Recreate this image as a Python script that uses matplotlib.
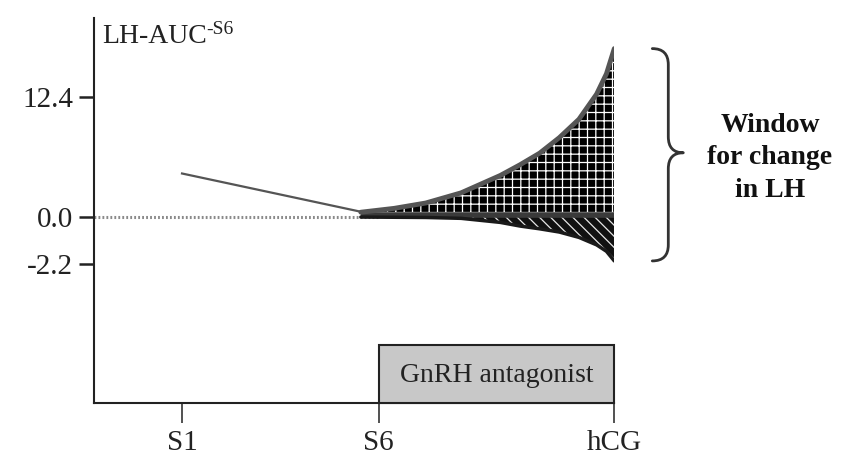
import numpy as np
import matplotlib
matplotlib.use("Agg")
import matplotlib.pyplot as plt
import matplotlib.transforms as mtransforms
from matplotlib.path import Path
from matplotlib.patches import PathPatch, Rectangle

plt.rcParams["font.family"] = ["Liberation Serif", "DejaVu Serif"]
plt.rcParams["hatch.linewidth"] = 0.9

# Stimulation timeline (days) and labels
day_labels = ["S1", "S6", "hCG"]
day_pos = [1, 6, 12]

# LH-AUC axis ticks
auc_ticks = [12.4, 0.0, -2.2]

# LH-AUC from S1 down to the start of the antagonist window
pre_days = [1, 5.55]
pre_auc = [4.5, 0.55]

# Window for change in LH: upper (rise) and lower (fall) envelopes
win_days = [5.55, 6.4, 7.2, 8.1, 9.1, 9.6, 10.1, 10.6, 11.1, 11.55, 11.8, 12.0]
auc_rise = [0.5, 0.9, 1.45, 2.5, 4.3, 5.4, 6.6, 8.2, 10.1, 12.7, 14.8, 17.4]
auc_fall = [0.0, -0.01, -0.02, -0.06, -0.25, -0.42, -0.55, -0.7, -0.95, -1.3,
            -1.6, -2.05]

# Treatment bar
antagonist_label = "GnRH antagonist"
antagonist_start, antagonist_end = 6, 12

# Negative values are drawn on a stretched scale
NEG_STRETCH = 2.21


def fwd(v):
    v = np.asarray(v, dtype=float)
    return np.where(v < 0, v * NEG_STRETCH, v)


def inv(v):
    v = np.asarray(v, dtype=float)
    return np.where(v < 0, v / NEG_STRETCH, v)


W, H = 843, 463
fig = plt.figure(figsize=(W / 100, H / 100), dpi=100)
ax = fig.add_axes([94 / W, 60 / H, 520.3 / W, 385 / H])
ax.set_yscale("function", functions=(fwd, inv))
ax.set_xlim(-1.24, 12)
ax.set_ylim(-8.69, 20.56)

for side in ("top", "right"):
    ax.spines[side].set_visible(False)
for side in ("left", "bottom"):
    ax.spines[side].set_linewidth(1.5)
    ax.spines[side].set_color("#222222")

# dotted baseline up to S6
ax.plot([ax.get_xlim()[0], day_pos[1]], [0, 0], color="#8a8a8a", lw=2.2,
        ls=(0, (0.6, 0.7)), zorder=2)

# hatched window
ax.fill_between(win_days, 0, auc_rise, facecolor="black", edgecolor="white",
                hatch="++", linewidth=0, zorder=3)
ax.fill_between(win_days, auc_fall, 0, facecolor="#111111", edgecolor="#e6e6e6",
                hatch="\\\\\\", linewidth=0, zorder=3)
ax.plot([win_days[0], win_days[-1]], [0.2, 0.2], color="#3a3a3a", lw=4,
        solid_capstyle="butt", zorder=4)
ax.plot(win_days, auc_rise, color="#555555", lw=3.5, solid_joinstyle="round",
        solid_capstyle="round", zorder=5)
ax.plot(win_days, auc_fall, color="#1a1a1a", lw=2.5, solid_joinstyle="round",
        solid_capstyle="round", zorder=5)

# decline from S1
ax.plot(pre_days, pre_auc, color="#555555", lw=1.6, zorder=4)

# ticks
ax.set_xticks(day_pos, day_labels)
ax.set_yticks(auc_ticks, [f"{v:.1f}" for v in auc_ticks])
ax.tick_params(axis="x", direction="out", length=14.4, width=1.1, pad=5,
               labelsize=21, colors="#222222")
ax.tick_params(axis="y", direction="out", length=11, width=1.8, pad=4,
               labelsize=21, colors="#222222")

# axis title with superscript
t = ax.text(0.015, 0.935, "LH-AUC", transform=ax.transAxes, fontsize=20,
            va="baseline", ha="left", color="#222222")
ax.annotate("-S6", xy=(1, 1), xycoords=t, xytext=(0, 2),
            textcoords="offset points", fontsize=14, va="top", ha="left",
            color="#222222")

# antagonist bar
blend = mtransforms.blended_transform_factory(ax.transData, ax.transAxes)
ax.add_patch(Rectangle((antagonist_start, 0), antagonist_end - antagonist_start,
                       0.15, transform=blend, facecolor="#c8c8c8",
                       edgecolor="#222222", lw=1.5, clip_on=False, zorder=6))
ax.text((antagonist_start + antagonist_end) / 2, 0.072, antagonist_label,
        transform=blend, fontsize=20, ha="center", va="center",
        color="#222222", zorder=7)

# curly brace spanning the window at hCG
x_end, y_top = ax.transData.transform((win_days[-1], auc_rise[-1]))
_, y_bot = ax.transData.transform((win_days[-1], auc_fall[-1]))
x0, x1, xt = x_end + 38, x_end + 54, x_end + 69
ym = (y_top + y_bot) / 2 + 2
r = 16
verts = [
    (x0, y_top), (x1, y_top), (x1, y_top - r),
    (x1, ym + r), (x1, ym), (xt, ym),
    (x1, ym), (x1, ym - r),
    (x1, y_bot + r), (x1, y_bot), (x0, y_bot),
]
codes = [
    Path.MOVETO, Path.CURVE3, Path.CURVE3,
    Path.LINETO, Path.CURVE3, Path.CURVE3,
    Path.CURVE3, Path.CURVE3,
    Path.LINETO, Path.CURVE3, Path.CURVE3,
]
fig.add_artist(PathPatch(Path(verts, codes), transform=mtransforms.IdentityTransform(),
                         fill=False, edgecolor="#333333", lw=2, capstyle="round",
                         joinstyle="round"))

fig.text(770 / W, (H - 158) / H, "Window\nfor change\nin LH", ha="center",
         va="center", fontsize=20, fontweight="bold", linespacing=1.4,
         multialignment="center", color="#111111")

fig.savefig("out.png", dpi=100)
